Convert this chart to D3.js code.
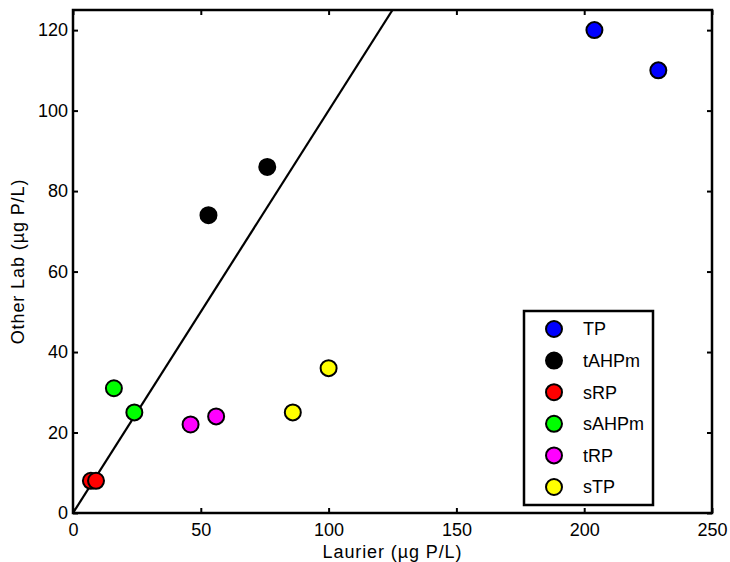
<!DOCTYPE html>
<html>
<head>
<meta charset="utf-8">
<script src="https://cdn.jsdelivr.net/npm/d3@7"></script>
<style>
  body { margin: 0; background: #fff; }
  text { font-family: "Liberation Sans", Arial, sans-serif; fill: #000; }
</style>
</head>
<body>
<div id="chart"></div>
<script>
// series (Laurier x, Other Lab y)
const seriesNames = ['TP', 'tAHPm', 'sRP', 'sAHPm', 'tRP', 'sTP'];
const seriesColors = ['#0000ff', '#000000', '#ff0000', '#00ff00', '#ff00ff', '#ffff00'];
const laurier = [[204, 229], [53, 76], [7, 9], [16, 24], [46, 56], [86, 100]];
const otherLab = [[120, 110], [74, 86], [8, 8], [31, 25], [22, 24], [25, 36]];
const xTicks = [0, 50, 100, 150, 200, 250];
const yTicks = [0, 20, 40, 60, 80, 100, 120];

const width = 730, height = 562;
const margin = {top: 10, right: 18, bottom: 49, left: 73};

const svg = d3.select('#chart').append('svg')
  .attr('width', width).attr('height', height);

const x = d3.scaleLinear().domain([0, 250]).range([margin.left, width - margin.right]);
const y = d3.scaleLinear().domain([0, 125]).range([height - margin.bottom, margin.top]);

const plot = svg.append('g');

// clip for the 1:1 line
svg.append('clipPath').attr('id', 'clip')
  .append('rect')
  .attr('x', x(0)).attr('y', y(125))
  .attr('width', x(250) - x(0)).attr('height', y(0) - y(125));

plot.append('line')
  .attr('clip-path', 'url(#clip)')
  .attr('x1', x(0)).attr('y1', y(0))
  .attr('x2', x(125)).attr('y2', y(125))
  .attr('stroke', '#000').attr('stroke-width', 2.2);

// points
seriesNames.forEach((name, i) => {
  const pts = laurier[i].map((v, j) => [v, otherLab[i][j]]);
  plot.selectAll(null).data(pts).enter().append('circle')
    .attr('cx', d => x(d[0]))
    .attr('cy', d => y(d[1]))
    .attr('r', 8)
    .attr('fill', seriesColors[i])
    .attr('stroke', '#000')
    .attr('stroke-width', 2);
});

// axes with inward ticks on all sides
const tickLen = 5;
const fontSize = 18;

const xAxis = svg.append('g').attr('transform', `translate(0,${y(0)})`)
  .call(d3.axisBottom(x).tickValues(xTicks).tickSize(-tickLen).tickPadding(10).tickFormat(d3.format('d')));
const xTop = svg.append('g').attr('transform', `translate(0,${y(125)})`)
  .call(d3.axisTop(x).tickValues(xTicks).tickSize(-tickLen).tickFormat(''));
const yAxis = svg.append('g').attr('transform', `translate(${x(0)},0)`)
  .call(d3.axisLeft(y).tickValues(yTicks).tickSize(-tickLen).tickPadding(5).tickFormat(d3.format('d')));
const yRight = svg.append('g').attr('transform', `translate(${x(250)},0)`)
  .call(d3.axisRight(y).tickValues(yTicks).tickSize(-tickLen).tickFormat(''));

[xAxis, xTop, yAxis, yRight].forEach(a => {
  a.select('.domain').remove();
  a.selectAll('.tick line').attr('stroke', '#000').attr('stroke-width', 2);
  a.selectAll('.tick text').attr('font-size', fontSize).attr('fill', '#000')
    .attr('font-family', '"Liberation Sans", Arial, sans-serif');
});

// frame
svg.append('rect')
  .attr('x', x(0)).attr('y', y(125))
  .attr('width', x(250) - x(0)).attr('height', y(0) - y(125))
  .attr('fill', 'none').attr('stroke', '#000').attr('stroke-width', 2.5);

// axis labels
svg.append('text')
  .attr('x', (x(0) + x(250)) / 2).attr('y', 558)
  .attr('text-anchor', 'middle').attr('font-size', 18)
  .attr('letter-spacing', 0.9)
  .text('Laurier (µg P/L)');

svg.append('text')
  .attr('transform', `translate(24,${(y(0) + y(125)) / 2}) rotate(-90)`)
  .attr('text-anchor', 'middle').attr('font-size', 18)
  .attr('letter-spacing', 0.9)
  .text('Other Lab (µg P/L)');

// legend
const legend = svg.append('g').attr('transform', 'translate(524,311)');
legend.append('rect')
  .attr('width', 129).attr('height', 194)
  .attr('fill', '#fff').attr('stroke', '#000').attr('stroke-width', 2.5);

seriesNames.forEach((name, i) => {
  const row = legend.append('g').attr('transform', `translate(0,${18 + i * 31.6})`);
  row.append('circle')
    .attr('cx', 30).attr('cy', 0).attr('r', 8)
    .attr('fill', seriesColors[i]).attr('stroke', '#000').attr('stroke-width', 2);
  row.append('text')
    .attr('x', 59).attr('y', 0).attr('dy', '0.35em')
    .attr('font-size', fontSize)
    .text(name);
});
</script>
</body>
</html>
